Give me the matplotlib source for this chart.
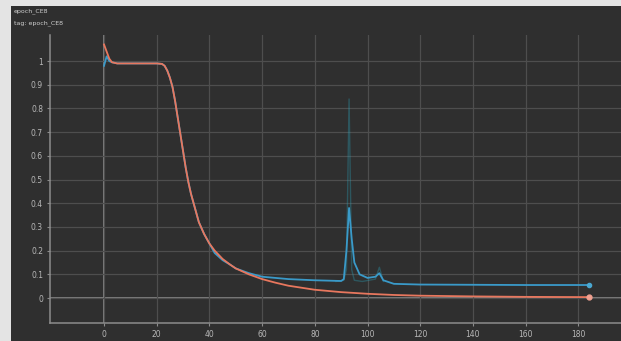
"""
TensorBoard style plot of epoch_CE8 (dark theme screenshot look).
"""
import matplotlib.pyplot as plt
from matplotlib.patches import Rectangle

# smoothed curves
orange_x = [0, 1, 2, 3, 5, 10, 15, 20, 22, 23, 24, 25, 26, 27, 28, 29, 30, 31, 32,
            33, 34, 35, 36, 38, 40, 42, 45, 48, 50, 55, 60, 65, 70, 80, 90, 100,
            110, 120, 140, 160, 184]
orange_y = [1.07, 1.04, 1.01, 0.995, 0.99, 0.99, 0.99, 0.99, 0.988, 0.98, 0.96,
            0.93, 0.89, 0.83, 0.76, 0.69, 0.62, 0.55, 0.49, 0.44, 0.40, 0.36,
            0.32, 0.27, 0.23, 0.20, 0.165, 0.14, 0.125, 0.10, 0.08, 0.065, 0.052,
            0.035, 0.025, 0.018, 0.013, 0.010, 0.007, 0.005, 0.004]

blue_x = [0, 1, 2, 3, 5, 10, 15, 20, 22, 23, 24, 25, 26, 27, 28, 29, 30, 31, 32,
          33, 34, 35, 36, 38, 40, 42, 45, 48, 50, 55, 60, 70, 80, 90, 91, 92, 93,
          94, 95, 97, 100, 103, 104.5, 106, 110, 120, 140, 160, 184]
blue_y = [0.98, 1.02, 1.0, 0.995, 0.99, 0.99, 0.99, 0.99, 0.988, 0.98, 0.96,
          0.93, 0.89, 0.83, 0.76, 0.69, 0.62, 0.55, 0.49, 0.44, 0.40, 0.36,
          0.32, 0.27, 0.23, 0.19, 0.16, 0.14, 0.125, 0.105, 0.09, 0.08, 0.075,
          0.072, 0.08, 0.20, 0.38, 0.25, 0.15, 0.10, 0.085, 0.09, 0.105, 0.075,
          0.06, 0.057, 0.056, 0.055, 0.055]

# faint raw spike of the blue run
raw_x = [88, 91, 92, 93, 94, 95, 98, 103, 104.5, 106]
raw_y = [0.07, 0.075, 0.12, 0.84, 0.12, 0.075, 0.07, 0.08, 0.13, 0.07]

x_ticks = [0, 20, 40, 60, 80, 100, 120, 140, 160, 180]
y_ticks = [0, 0.1, 0.2, 0.3, 0.4, 0.5, 0.6, 0.7, 0.8, 0.9, 1]
y_labels = ["0", "0.1", "0.2", "0.3", "0.4", "0.5", "0.6", "0.7", "0.8", "0.9", "1"]

W, H = 621, 341
bg = "#2f2f2f"
txt = "#b8b8b8"

fig = plt.figure(figsize=(W / 100, H / 100), dpi=100, facecolor="#e4e4e4")
fig.patches.append(Rectangle((11 / W, 0), 1, (H - 6) / H, transform=fig.transFigure,
                             facecolor=bg, edgecolor="none", zorder=-10))

ax = fig.add_axes([50 / W, 18.3 / H, (W - 50) / W, (322.7 - 35) / H])
ax.set_facecolor(bg)
ax.set_xlim(-20.5, 196.2)
ax.set_ylim(-0.104, 1.11)

ax.set_xticks(x_ticks)
ax.set_yticks(y_ticks)
ax.set_yticklabels(y_labels)
ax.grid(True, color="#4e4e4e", linewidth=0.9)
ax.axhline(0, color="#8c8c8c", linewidth=1.2, zorder=1)
ax.axvline(0, color="#8c8c8c", linewidth=1.2, zorder=1)
for s in ["top", "right"]:
    ax.spines[s].set_visible(False)
for s in ["left", "bottom"]:
    ax.spines[s].set_color("#8c8c8c")
    ax.spines[s].set_linewidth(1.1)
ax.tick_params(colors="#8c8c8c", labelcolor=txt, labelsize=5.5, length=2, pad=3)

ax.plot(raw_x, raw_y, color="#2aa1b8", alpha=0.35, linewidth=1.0, zorder=2)
ax.plot(blue_x, blue_y, color="#3a9ac9", linewidth=1.3, zorder=3)
ax.plot(orange_x, orange_y, color="#e8775e", linewidth=1.3, zorder=4)
ax.plot([blue_x[-1]], [blue_y[-1]], "o", color="#4aa7d0", markersize=3, zorder=5)
ax.plot([orange_x[-1]], [orange_y[-1]], "o", color="#f0a090", markersize=3.5, zorder=5)

fig.text(14 / W, 1 - 12 / H, "epoch_CE8", color="#d0d0d0", fontsize=4.5)
fig.text(14 / W, 1 - 24 / H, "tag: epoch_CE8", color="#d0d0d0", fontsize=4.5)

fig.savefig("out.png", dpi=100, facecolor=fig.get_facecolor())
